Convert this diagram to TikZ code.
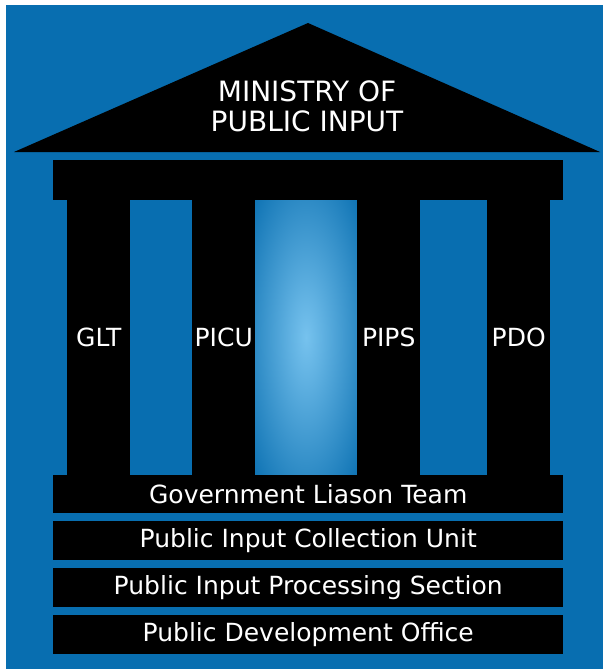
\documentclass[tikz,border=0pt]{standalone}
\usepackage{fontspec}
\setmainfont{DejaVu Sans}
\usepackage{tikz}
\usetikzlibrary{positioning}

\definecolor{skyblue}{RGB}{8,110,176}
\definecolor{glowblue}{RGB}{118,194,238}
\pgfdeclareradialshading{pillarglow}{\pgfpoint{0bp}{0bp}}{color(0bp)=(glowblue); color(8bp)=(glowblue!80!skyblue); color(38bp)=(skyblue); color(50bp)=(skyblue)}

\begin{document}
\begin{tikzpicture}[x=1pt, y=-1pt,
        column/.style={fill=black, text=white, minimum width=63pt, minimum height=275pt, inner sep=0pt, font=\fontsize{25}{30}\selectfont, anchor=north west},
        floor/.style={fill=black, text=white, minimum width=510pt, minimum height=39pt, inner sep=0pt, font=\fontsize{25}{30}\selectfont, anchor=north west}
    ]
    % Background
    \useasboundingbox[fill=white] (0,0) rectangle (603,669);
    \fill[skyblue] (6,5) rectangle (603,669);

    % Roof and beam
    \fill[black] (14,152) -- (308,23) -- (600,152) -- cycle;
    \node[text=white, align=center, font=\fontsize{28}{30}\selectfont] (ministry) at (307,106) {MINISTRY OF\\PUBLIC INPUT};
    \fill[black] (53,160) rectangle (563,200);

    % Glow between the middle columns
    \shade[shading=pillarglow] (255,200) rectangle (357,475);

    % Columns
    \node[column] (glt) at (67,200) {GLT};
    \node[column] (picu) at (192,200) {PICU};
    \node[column] (pips) at (357,200) {PIPS};
    \node[column] (pdo) at (487,200) {PDO};

    % Floors
    \node[floor, minimum height=38pt] (team) at (53,475) {Government Liason Team};
    \node[floor] (collect) at (53,521) {Public Input Collection Unit};
    \node[floor] (process) at (53,568) {Public Input Processing Section};
    \node[floor] (office) at (53,615) {Public Development Office};

\end{tikzpicture}
\end{document}
